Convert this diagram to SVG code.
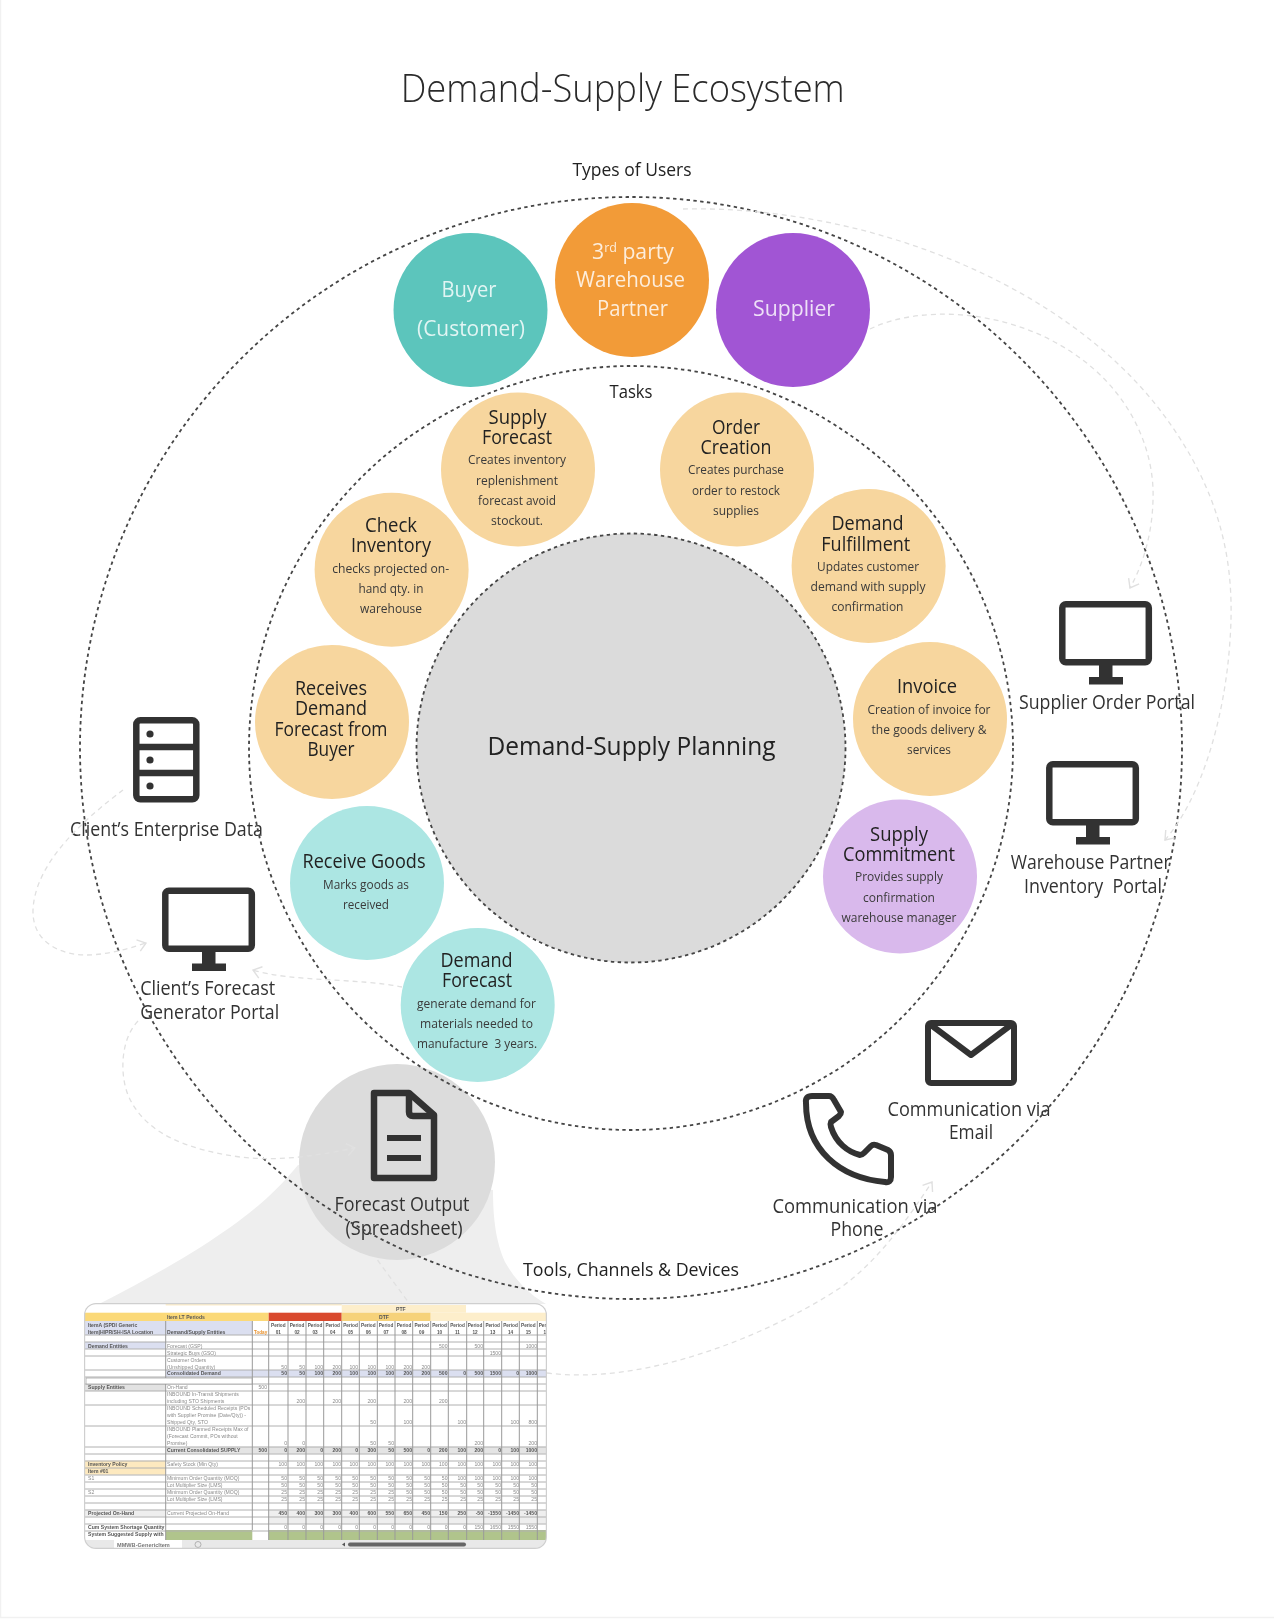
<svg xmlns="http://www.w3.org/2000/svg" width="1274" height="1619" viewBox="0 0 1274 1619">
<style>
text{font-family:"Open Sans","Noto Sans","Liberation Sans",sans-serif;text-anchor:middle;fill:#333}
.title{font-size:39px;font-weight:300;fill:#2b2b2b}
.lab{font-size:19px;fill:#222}
.w{font-size:22px;fill:#fff;fill-opacity:.82}
.h{font-size:19.5px;fill:#222}
.s{font-size:13.5px;fill:#3a3a3a}
.c{font-size:26px;fill:#222}
.t{font-size:20px;fill:#333}
.ring{fill:none;stroke:#444;stroke-width:1.8;stroke-dasharray:3.4 3.4}
.link{fill:none;stroke:#e0e0e0;stroke-width:1.3;stroke-dasharray:5 4}
.icon{fill:none;stroke:#333;stroke-width:6.5;stroke-linejoin:round}
.task{fill:#f7d69e}
.x text{font-family:"Liberation Sans",sans-serif;font-size:5.1px;fill:#8a8a8a;text-anchor:start}
.x .b{font-weight:bold;fill:#555}
.x .n text{text-anchor:end}
.x .p text{text-anchor:middle;font-weight:bold;fill:#555;font-size:4.7px}
</style>
<defs>
<marker id="chev" viewBox="-10 -7 12 14" refX="0" refY="0" markerWidth="12" markerHeight="14" markerUnits="userSpaceOnUse" orient="auto"><path d="M-8,-6 L0,0 L-8,6" fill="none" stroke="#e0e0e0" stroke-width="1.4"/></marker>
<g id="monitor"><rect x="3.3" y="3.3" width="86.5" height="58" rx="3.5" class="icon"/><rect x="40" y="64" width="13.5" height="14" fill="#333"/><rect x="30" y="76" width="34" height="7.5" fill="#333"/></g>
<filter id="soft" x="-2%" y="-2%" width="104%" height="104%"><feGaussianBlur stdDeviation="0.5"/></filter>
<filter id="page" filterUnits="userSpaceOnUse" x="0" y="0" width="1274" height="1619"><feGaussianBlur stdDeviation="0.3"/></filter>
<clipPath id="sheetclip"><rect x="84" y="1303" width="463" height="246" rx="12"/></clipPath>
</defs>
<rect width="1274" height="1619" fill="#fff"/>
<path id="edges" d="M0.5,0 V1617.5 H1274" fill="none" stroke="#f1f1f1" stroke-width="1.5"/>
<g id="page-content" filter="url(#page)">

<path id="funnel" d="M298,1165 C270,1200 225,1240 99,1304 L546,1304 C530,1295 515,1280 505,1262 C495,1240 493,1215 493,1190 Z" fill="#eeeeee"/>

<g id="node-output"><circle cx="397" cy="1162" r="98" fill="#dcdcdc"/>
<path class="icon" d="M377,1093 H409 L434,1115 V1178 H374 V1093 Z"/><path class="icon" d="M409,1093 V1112 Q409,1116 413,1116 H434"/><path d="M387,1138 H421 M387,1158 H421" stroke="#333" stroke-width="6" fill="none"/>
<text class="t" x="402" y="1210.8" textLength="135" lengthAdjust="spacingAndGlyphs">Forecast Output</text>
<text class="t" x="404" y="1234.8" textLength="117" lengthAdjust="spacingAndGlyphs">(Spreadsheet)</text></g>

<g id="node-center"><circle cx="631" cy="748" r="214.5" fill="#dbdbdb"/>
<text class="c" x="631.5" y="755" textLength="288" lengthAdjust="spacingAndGlyphs">Demand-Supply Planning</text></g>

<g id="node-buyer"><circle cx="470.5" cy="310" r="77" fill="#5bc5bc"/>
<text class="w" x="469" y="296.7" textLength="55" lengthAdjust="spacingAndGlyphs">Buyer</text>
<text class="w" x="471" y="335.7" textLength="108" lengthAdjust="spacingAndGlyphs">(Customer)</text></g>
<g id="node-warehouse"><circle cx="632" cy="280" r="77" fill="#f29b38"/>
<text class="w" x="633" y="259" textLength="82" lengthAdjust="spacingAndGlyphs">3<tspan font-size="13" dy="-7">rd</tspan><tspan dy="7"> party</tspan></text>
<text class="w" x="630.5" y="286.7" textLength="109" lengthAdjust="spacingAndGlyphs">Warehouse</text>
<text class="w" x="632.5" y="315.7" textLength="71" lengthAdjust="spacingAndGlyphs">Partner</text></g>
<g id="node-supplier"><circle cx="793" cy="310" r="77" fill="#a155d4"/>
<text class="w" x="794" y="316" textLength="82" lengthAdjust="spacingAndGlyphs">Supplier</text></g>

<g id="task-supply-forecast"><circle class="task" cx="518" cy="469.6" r="77"/>
<text class="h" x="517.5" y="423.8" textLength="58" lengthAdjust="spacingAndGlyphs">Supply</text>
<text class="h" x="517" y="443.8" textLength="70" lengthAdjust="spacingAndGlyphs">Forecast</text>
<text class="s" x="517" y="464" textLength="98" lengthAdjust="spacingAndGlyphs">Creates inventory</text>
<text class="s" x="517" y="484.5" textLength="82" lengthAdjust="spacingAndGlyphs">replenishment</text>
<text class="s" x="517" y="504.5" textLength="78" lengthAdjust="spacingAndGlyphs">forecast avoid</text>
<text class="s" x="517" y="524.7" textLength="52" lengthAdjust="spacingAndGlyphs">stockout.</text></g>
<g id="task-check-inventory"><circle class="task" cx="391.6" cy="569.7" r="77"/>
<text class="h" x="391" y="531.7" textLength="52" lengthAdjust="spacingAndGlyphs">Check</text>
<text class="h" x="391" y="552.3" textLength="80" lengthAdjust="spacingAndGlyphs">Inventory</text>
<text class="s" x="390.7" y="572.7" textLength="117" lengthAdjust="spacingAndGlyphs">checks projected on-</text>
<text class="s" x="391" y="592.7" textLength="65" lengthAdjust="spacingAndGlyphs">hand qty. in</text>
<text class="s" x="391" y="612.7" textLength="62" lengthAdjust="spacingAndGlyphs">warehouse</text></g>
<g id="task-receives"><circle class="task" cx="332" cy="722" r="77"/>
<text class="h" x="331" y="695" textLength="72" lengthAdjust="spacingAndGlyphs">Receives</text>
<text class="h" x="331" y="715" textLength="72" lengthAdjust="spacingAndGlyphs">Demand</text>
<text class="h" x="331" y="735.7" textLength="113" lengthAdjust="spacingAndGlyphs">Forecast from</text>
<text class="h" x="331" y="755.7" textLength="47" lengthAdjust="spacingAndGlyphs">Buyer</text></g>
<g id="task-receive-goods"><circle cx="367" cy="883" r="77" fill="#ace6e3"/>
<text class="h" x="364" y="868.4" textLength="123" lengthAdjust="spacingAndGlyphs">Receive Goods</text>
<text class="s" x="366" y="889.4" textLength="86" lengthAdjust="spacingAndGlyphs">Marks goods as</text>
<text class="s" x="366" y="909" textLength="46" lengthAdjust="spacingAndGlyphs">received</text></g>
<g id="task-demand-forecast"><circle cx="477.7" cy="1005" r="77" fill="#ace6e3"/>
<text class="h" x="476.5" y="967" textLength="72" lengthAdjust="spacingAndGlyphs">Demand</text>
<text class="h" x="477" y="987" textLength="70" lengthAdjust="spacingAndGlyphs">Forecast</text>
<text class="s" x="476.5" y="1008" textLength="119" lengthAdjust="spacingAndGlyphs">generate demand for</text>
<text class="s" x="476.5" y="1028" textLength="113" lengthAdjust="spacingAndGlyphs">materials needed to</text>
<text class="s" x="477" y="1048" textLength="120" lengthAdjust="spacingAndGlyphs" xml:space="preserve">manufacture  3 years.</text></g>
<g id="task-order-creation"><circle class="task" cx="737" cy="469.6" r="77"/>
<text class="h" x="736" y="433.6" textLength="48" lengthAdjust="spacingAndGlyphs">Order</text>
<text class="h" x="736" y="453.9" textLength="71" lengthAdjust="spacingAndGlyphs">Creation</text>
<text class="s" x="736" y="474" textLength="96" lengthAdjust="spacingAndGlyphs">Creates purchase</text>
<text class="s" x="736" y="494.5" textLength="88" lengthAdjust="spacingAndGlyphs">order to restock</text>
<text class="s" x="736" y="514.7" textLength="46" lengthAdjust="spacingAndGlyphs">supplies</text></g>
<g id="task-demand-fulfillment"><circle class="task" cx="868.6" cy="566" r="77"/>
<text class="h" x="867.5" y="530" textLength="72" lengthAdjust="spacingAndGlyphs">Demand</text>
<text class="h" x="865.8" y="550.6" textLength="89" lengthAdjust="spacingAndGlyphs">Fulfillment</text>
<text class="s" x="868" y="570.6" textLength="102" lengthAdjust="spacingAndGlyphs">Updates customer</text>
<text class="s" x="868" y="591" textLength="115" lengthAdjust="spacingAndGlyphs">demand with supply</text>
<text class="s" x="867.5" y="611" textLength="72" lengthAdjust="spacingAndGlyphs">confirmation</text></g>
<g id="task-invoice"><circle class="task" cx="930" cy="719" r="77"/>
<text class="h" x="927" y="693" textLength="60" lengthAdjust="spacingAndGlyphs">Invoice</text>
<text class="s" x="929" y="713.5" textLength="123" lengthAdjust="spacingAndGlyphs">Creation of invoice for</text>
<text class="s" x="929" y="734" textLength="115" lengthAdjust="spacingAndGlyphs">the goods delivery &amp;</text>
<text class="s" x="929" y="754" textLength="44" lengthAdjust="spacingAndGlyphs">services</text></g>
<g id="task-supply-commitment"><circle cx="900" cy="876.5" r="77" fill="#d9b9ec"/>
<text class="h" x="899" y="841" textLength="58" lengthAdjust="spacingAndGlyphs">Supply</text>
<text class="h" x="899" y="861" textLength="112" lengthAdjust="spacingAndGlyphs">Commitment</text>
<text class="s" x="899" y="881" textLength="88" lengthAdjust="spacingAndGlyphs">Provides supply</text>
<text class="s" x="899" y="901.6" textLength="72" lengthAdjust="spacingAndGlyphs">confirmation</text>
<text class="s" x="899" y="921.5" textLength="115" lengthAdjust="spacingAndGlyphs">warehouse manager</text></g>

<g id="sheet" class="x" clip-path="url(#sheetclip)"><g filter="url(#soft)">
<rect x="84" y="1303" width="463" height="246" fill="#fff"/>
<rect x="165.7" y="1303" width="176" height="2.5" fill="#fdeecb"/>
<rect x="341.7" y="1305" width="124.3" height="7.7" fill="#fdeecb"/>
<rect x="84" y="1312.7" width="184.7" height="8.3" fill="#fbd978"/>
<rect x="268.7" y="1312.7" width="73" height="8.3" fill="#d9482f"/>
<rect x="341.7" y="1312.7" width="89" height="8.3" fill="#f6d27a"/>
<rect x="430.7" y="1312.7" width="116.3" height="8.3" fill="#fdeecb"/>
<rect x="84" y="1321" width="168.3" height="14" fill="#dbdff0"/>
<rect x="84" y="1342" width="81.7" height="7" fill="#dbdff0"/>
<rect x="165.7" y="1370" width="381.3" height="7" fill="#dbdff0"/>
<rect x="84" y="1384" width="81.7" height="7" fill="#e2e2e2"/>
<rect x="165.7" y="1446.7" width="381.3" height="7" fill="#e4e4e4"/>
<rect x="84" y="1460.7" width="81.7" height="14" fill="#fde9bf"/>
<rect x="84" y="1509.7" width="81.7" height="7" fill="#eeeeee"/>
<rect x="268.7" y="1509.7" width="278.3" height="14" fill="#eeeeee"/>
<rect x="165.7" y="1530" width="86.6" height="10" fill="#b0c48c"/>
<rect x="268.7" y="1530" width="278.3" height="10" fill="#b0c48c"/>
<rect x="84" y="1540" width="463" height="9" fill="#e9e9e9"/>
<rect x="114" y="1540" width="68" height="9" fill="#fff"/>
<path d="M84,1335 H547 M84,1342 H547 M84,1349 H547 M84,1356 H547 M84,1370 H547 M84,1377 H547 M84,1384 H547 M84,1391 H547 M84,1405 H547 M84,1426 H547 M84,1447 H547 M84,1454 H547 M84,1461 H547 M84,1468 H547 M84,1475 H547 M84,1482 H547 M84,1489 H547 M84,1496 H547 M84,1503 H547 M84,1510 H547 M84,1517 H547 M84,1524 H547 M84,1531 H547" stroke="#b0b0b0" stroke-width="1" fill="none"/>
<path d="M165.7,1321 V1540 M252.3,1321 V1530 M268.7,1321 V1540 M288,1321 V1540 M306,1321 V1540 M323.7,1321 V1540 M341.7,1321 V1540 M359.3,1321 V1540 M377.3,1321 V1540 M395,1321 V1540 M412.7,1321 V1540 M430.7,1321 V1540 M448.3,1321 V1540 M466.7,1321 V1540 M483.7,1321 V1540 M501.7,1321 V1540 M519.3,1321 V1540 M537.3,1321 V1540" stroke="#999" stroke-width="1" fill="none"/>
<rect x="86" y="1378" width="166" height="6" fill="#fff" stroke="#999" stroke-width=".7"/>
<text x="396" y="1311" class="b">PTF</text><text x="379" y="1319" class="b">DTF</text>
<text x="167" y="1319" class="b">Item LT Periods</text>
<text x="88" y="1326.5" class="b">ItemA (SPDI Generic</text><text x="88" y="1333.5" class="b">Item|HIPR/SH-ISA Location</text>
<text x="167" y="1333.5" class="b">Demand/Supply Entities</text>
<text x="254" y="1333.5" style="fill:#e8912d;font-weight:bold;font-size:4.6px">Today</text>
<g class="p">
<text x="278.3" y="1326.5">Period</text><text x="278.3" y="1333.5">01</text>
<text x="297" y="1326.5">Period</text><text x="297" y="1333.5">02</text>
<text x="315" y="1326.5">Period</text><text x="315" y="1333.5">03</text>
<text x="332.7" y="1326.5">Period</text><text x="332.7" y="1333.5">04</text>
<text x="350.5" y="1326.5">Period</text><text x="350.5" y="1333.5">05</text>
<text x="368.3" y="1326.5">Period</text><text x="368.3" y="1333.5">06</text>
<text x="386" y="1326.5">Period</text><text x="386" y="1333.5">07</text>
<text x="404" y="1326.5">Period</text><text x="404" y="1333.5">08</text>
<text x="421.7" y="1326.5">Period</text><text x="421.7" y="1333.5">09</text>
<text x="439.5" y="1326.5">Period</text><text x="439.5" y="1333.5">10</text>
<text x="457.5" y="1326.5">Period</text><text x="457.5" y="1333.5">11</text>
<text x="475" y="1326.5">Period</text><text x="475" y="1333.5">12</text>
<text x="492.7" y="1326.5">Period</text><text x="492.7" y="1333.5">13</text>
<text x="510.5" y="1326.5">Period</text><text x="510.5" y="1333.5">14</text>
<text x="528.3" y="1326.5">Period</text><text x="528.3" y="1333.5">15</text>
<text x="546" y="1326.5">Period</text><text x="546" y="1333.5">16</text>
</g>
<text x="88" y="1347.5" class="b">Demand Entities</text>
<text x="167" y="1347.5">Forecast (GSP)</text><text x="167" y="1354.5">Strategic Buys (GSO)</text>
<text x="167" y="1361.5">Customer Orders</text><text x="167" y="1368.5">(Unshipped Quantity)</text>
<text x="167" y="1375.3" class="b">Consolidated Demand</text>
<text x="88" y="1389.3" class="b">Supply Entities</text><text x="167" y="1389.3">On-Hand</text>
<text x="167" y="1396.3">INBOUND In-Transit Shipments</text><text x="167" y="1403.3">including STO Shipments</text>
<text x="167" y="1410.3">INBOUND Scheduled Receipts (POs</text><text x="167" y="1417.3">with Supplier Promise (Date/Qty)) -</text><text x="167" y="1424.3">Shipped Qty, STO</text>
<text x="167" y="1431.3">INBOUND Planned Receipts Max of</text><text x="167" y="1438.3">(Forecast Commit, POs without</text><text x="167" y="1445.3">Promise)</text>
<text x="167" y="1452" class="b">Current Consolidated SUPPLY</text>
<text x="88" y="1466" class="b">Inventory Policy</text><text x="88" y="1473" class="b">Item #01</text><text x="167" y="1466">Safety Stock (Min Qty)</text>
<text x="88" y="1480">S1</text><text x="167" y="1480">Minimum Order Quantity (MOQ)</text><text x="167" y="1487">Lot Multiplier Size (LMS)</text>
<text x="88" y="1494">S2</text><text x="167" y="1494">Minimum Order Quantity (MOQ)</text><text x="167" y="1501">Lot Multiplier Size (LMS)</text>
<text x="88" y="1515" class="b">Projected On-Hand</text><text x="167" y="1515">Current Projected On-Hand</text>
<text x="88" y="1529" class="b">Cum System Shortage Quantity</text><text x="88" y="1536" class="b">System Suggested Supply with</text>
<g class="n">
<text x="267" y="1389.3">500</text><text x="267" y="1452" class="b">500</text>
<text x="447.5" y="1347.5">500</text><text x="483" y="1347.5">500</text><text x="537" y="1347.5">1000</text>
<text x="501" y="1354.5">1500</text>
<text x="287" y="1368.5">50</text><text x="305" y="1368.5">50</text><text x="323" y="1368.5">100</text><text x="341" y="1368.5">200</text><text x="358" y="1368.5">100</text><text x="376" y="1368.5">100</text><text x="394" y="1368.5">100</text><text x="412" y="1368.5">200</text><text x="430" y="1368.5">200</text>
<g class="b"><text class="b" x="287" y="1375.3">50</text><text class="b" x="305" y="1375.3">50</text><text class="b" x="323" y="1375.3">100</text><text class="b" x="341" y="1375.3">200</text><text class="b" x="358" y="1375.3">100</text><text class="b" x="376" y="1375.3">100</text><text class="b" x="394" y="1375.3">100</text><text class="b" x="412" y="1375.3">200</text><text class="b" x="430" y="1375.3">200</text><text class="b" x="447.5" y="1375.3">500</text><text class="b" x="466" y="1375.3">0</text><text class="b" x="483" y="1375.3">500</text><text class="b" x="501" y="1375.3">1500</text><text class="b" x="519" y="1375.3">0</text><text class="b" x="537" y="1375.3">1000</text></g>
<text x="305" y="1403.3">200</text><text x="341" y="1403.3">200</text><text x="376" y="1403.3">200</text><text x="412" y="1403.3">200</text><text x="447.5" y="1403.3">200</text>
<text x="376" y="1424.3">50</text><text x="412" y="1424.3">100</text><text x="466" y="1424.3">100</text><text x="519" y="1424.3">100</text><text x="537" y="1424.3">800</text>
<text x="287" y="1445.3">0</text><text x="305" y="1445.3">0</text><text x="376" y="1445.3">50</text><text x="394" y="1445.3">50</text><text x="483" y="1445.3">200</text><text x="537" y="1445.3">200</text>
<text class="b" x="287" y="1452">0</text><text class="b" x="305" y="1452">200</text><text class="b" x="323" y="1452">0</text><text class="b" x="341" y="1452">200</text><text class="b" x="358" y="1452">0</text><text class="b" x="376" y="1452">300</text><text class="b" x="394" y="1452">50</text><text class="b" x="412" y="1452">500</text><text class="b" x="430" y="1452">0</text><text class="b" x="447.5" y="1452">200</text><text class="b" x="466" y="1452">100</text><text class="b" x="483" y="1452">200</text><text class="b" x="501" y="1452">0</text><text class="b" x="519" y="1452">100</text><text class="b" x="537" y="1452">1000</text>
<text x="287" y="1466">100</text><text x="305" y="1466">100</text><text x="323" y="1466">100</text><text x="341" y="1466">100</text><text x="358" y="1466">100</text><text x="376" y="1466">100</text><text x="394" y="1466">100</text><text x="412" y="1466">100</text><text x="430" y="1466">100</text><text x="447.5" y="1466">100</text><text x="466" y="1466">100</text><text x="483" y="1466">100</text><text x="501" y="1466">100</text><text x="519" y="1466">100</text><text x="537" y="1466">100</text>
<text x="287" y="1480">50</text><text x="305" y="1480">50</text><text x="323" y="1480">50</text><text x="341" y="1480">50</text><text x="358" y="1480">50</text><text x="376" y="1480">50</text><text x="394" y="1480">50</text><text x="412" y="1480">50</text><text x="430" y="1480">50</text><text x="447.5" y="1480">50</text><text x="466" y="1480">100</text><text x="483" y="1480">100</text><text x="501" y="1480">100</text><text x="519" y="1480">100</text><text x="537" y="1480">100</text>
<text x="287" y="1487">50</text><text x="305" y="1487">50</text><text x="323" y="1487">50</text><text x="341" y="1487">50</text><text x="358" y="1487">50</text><text x="376" y="1487">50</text><text x="394" y="1487">50</text><text x="412" y="1487">50</text><text x="430" y="1487">50</text><text x="447.5" y="1487">50</text><text x="466" y="1487">50</text><text x="483" y="1487">50</text><text x="501" y="1487">50</text><text x="519" y="1487">50</text><text x="537" y="1487">50</text>
<text x="287" y="1494">25</text><text x="305" y="1494">25</text><text x="323" y="1494">25</text><text x="341" y="1494">25</text><text x="358" y="1494">25</text><text x="376" y="1494">25</text><text x="394" y="1494">25</text><text x="412" y="1494">50</text><text x="430" y="1494">50</text><text x="447.5" y="1494">50</text><text x="466" y="1494">50</text><text x="483" y="1494">50</text><text x="501" y="1494">50</text><text x="519" y="1494">50</text><text x="537" y="1494">50</text>
<text x="287" y="1501">25</text><text x="305" y="1501">25</text><text x="323" y="1501">25</text><text x="341" y="1501">25</text><text x="358" y="1501">25</text><text x="376" y="1501">25</text><text x="394" y="1501">25</text><text x="412" y="1501">25</text><text x="430" y="1501">25</text><text x="447.5" y="1501">25</text><text x="466" y="1501">25</text><text x="483" y="1501">25</text><text x="501" y="1501">25</text><text x="519" y="1501">25</text><text x="537" y="1501">25</text>
<text class="b" x="287" y="1515">450</text><text class="b" x="305" y="1515">400</text><text class="b" x="323" y="1515">300</text><text class="b" x="341" y="1515">300</text><text class="b" x="358" y="1515">400</text><text class="b" x="376" y="1515">600</text><text class="b" x="394" y="1515">550</text><text class="b" x="412" y="1515">650</text><text class="b" x="430" y="1515">450</text><text class="b" x="447.5" y="1515">150</text><text class="b" x="466" y="1515">250</text><text class="b" x="483" y="1515">-50</text><text class="b" x="501" y="1515">-1550</text><text class="b" x="519" y="1515">-1450</text><text class="b" x="537" y="1515">-1450</text>
<text x="287" y="1529">0</text><text x="305" y="1529">0</text><text x="323" y="1529">0</text><text x="341" y="1529">0</text><text x="358" y="1529">0</text><text x="376" y="1529">0</text><text x="394" y="1529">0</text><text x="412" y="1529">0</text><text x="430" y="1529">0</text><text x="447.5" y="1529">0</text><text x="466" y="1529">0</text><text x="483" y="1529">150</text><text x="501" y="1529">1650</text><text x="519" y="1529">1550</text><text x="537" y="1529">1550</text>
</g>
<text x="117" y="1546.6" style="font-size:5.6px;font-weight:bold;fill:#777">MMWB-GenericItem</text>
<circle cx="198" cy="1544.5" r="3" fill="none" stroke="#999" stroke-width=".7"/>
<path d="M342,1544.5 L345,1542.5 V1546.5 Z" fill="#555"/>
<rect x="348" y="1542.5" width="118" height="4" rx="2" fill="#666"/>
<rect x="84" y="1303" width="463" height="246" rx="12" fill="none" stroke="#cfcfcf" stroke-width="2.4"/>
</g></g>

<g id="node-enterprise-data"><rect x="136.3" y="720.3" width="60" height="79" rx="4" class="icon"/><path d="M136,747 H196 M136,773 H196" class="icon"/><circle cx="150" cy="734" r="3.6" fill="#333"/><circle cx="150" cy="760" r="3.6" fill="#333"/><circle cx="150" cy="786" r="3.6" fill="#333"/>
<text class="t" x="166.5" y="836" textLength="193" lengthAdjust="spacingAndGlyphs">Client’s Enterprise Data</text></g>
<g id="node-forecast-portal"><use href="#monitor" x="162" y="887.5"/>
<text class="t" x="207.7" y="995.4" textLength="135" lengthAdjust="spacingAndGlyphs">Client’s Forecast</text>
<text class="t" x="209.7" y="1018.7" textLength="139" lengthAdjust="spacingAndGlyphs">Generator Portal</text></g>
<g id="node-supplier-portal"><use href="#monitor" x="1059" y="601"/>
<text class="t" x="1107" y="708.7" textLength="176" lengthAdjust="spacingAndGlyphs">Supplier Order Portal</text></g>
<g id="node-warehouse-portal"><use href="#monitor" x="1046" y="761"/>
<text class="t" x="1090.7" y="869" textLength="160" lengthAdjust="spacingAndGlyphs">Warehouse Partner</text>
<text class="t" x="1093" y="892.5" textLength="138" lengthAdjust="spacingAndGlyphs" xml:space="preserve">Inventory  Portal</text></g>
<g id="node-email"><rect x="928" y="1023" width="86" height="60" rx="3" class="icon" style="stroke-width:6"/><path d="M931,1025 L971,1055 L1011,1025" class="icon" style="stroke-width:6"/>
<text class="t" x="969" y="1116" textLength="163" lengthAdjust="spacingAndGlyphs">Communication via</text>
<text class="t" x="971" y="1139" textLength="44" lengthAdjust="spacingAndGlyphs">Email</text></g>
<g id="node-phone"><path class="icon" style="stroke-width:6;stroke-linecap:round" d="M806,1103 Q805,1096 812,1096 H829 Q832,1096 834,1100 L841,1112 Q841,1114 839,1116 L831,1122 Q830,1124 831,1127 C836,1143 848,1152 860,1155 Q862,1155 864,1153 L871,1146 Q873,1144 876,1145 L888,1150 Q891,1152 891,1155 V1177 Q891,1183 885,1182 C840,1178 806,1150 806,1103 Z"/>
<text class="t" x="855" y="1212.7" textLength="165" lengthAdjust="spacingAndGlyphs">Communication via</text>
<text class="t" x="857" y="1236" textLength="53" lengthAdjust="spacingAndGlyphs">Phone</text></g>

<g id="rings">
<circle class="ring" cx="631" cy="748" r="551"/>
<circle class="ring" cx="631" cy="748" r="382"/>
<circle class="ring" cx="631" cy="748" r="214.5"/>
</g>

<g id="connectors">
<path class="link" marker-end="url(#chev)" d="M683,209 C860,205 1060,280 1160,410 C1225,495 1235,570 1230,640 C1225,720 1200,800 1165,840"/>
<path class="link" marker-end="url(#chev)" d="M870,329 C920,305 1000,310 1060,345 C1130,385 1155,450 1153,500 C1152,540 1140,570 1130,588"/>
<path class="link" marker-end="url(#chev)" d="M123,790 C90,815 35,860 33,910 C32,945 65,955 85,955 C105,955 125,950 146,943"/>
<path class="link" marker-end="url(#chev)" d="M402,987 C360,978 290,982 253,970"/>
<path class="link" marker-end="url(#chev)" d="M138,1021 C120,1040 120,1075 128,1095 C145,1135 190,1150 240,1157 C280,1162 320,1155 355,1148"/>
<path class="link" d="M377.5,1260 L409,1303"/>
<path class="link" marker-end="url(#chev)" d="M547,1373 C640,1385 760,1340 840,1288 C880,1260 910,1215 932,1182"/>
</g>

<g id="labels">
<text class="title" x="622.7" y="101.7" textLength="444" lengthAdjust="spacingAndGlyphs">Demand-Supply Ecosystem</text>
<text class="lab" x="632" y="176" textLength="119" lengthAdjust="spacingAndGlyphs">Types of Users</text>
<text class="lab" x="631" y="398" textLength="43" lengthAdjust="spacingAndGlyphs">Tasks</text>
<text class="lab" x="631" y="1276" textLength="216" lengthAdjust="spacingAndGlyphs">Tools, Channels &amp; Devices</text>
</g>
</g>
</svg>
